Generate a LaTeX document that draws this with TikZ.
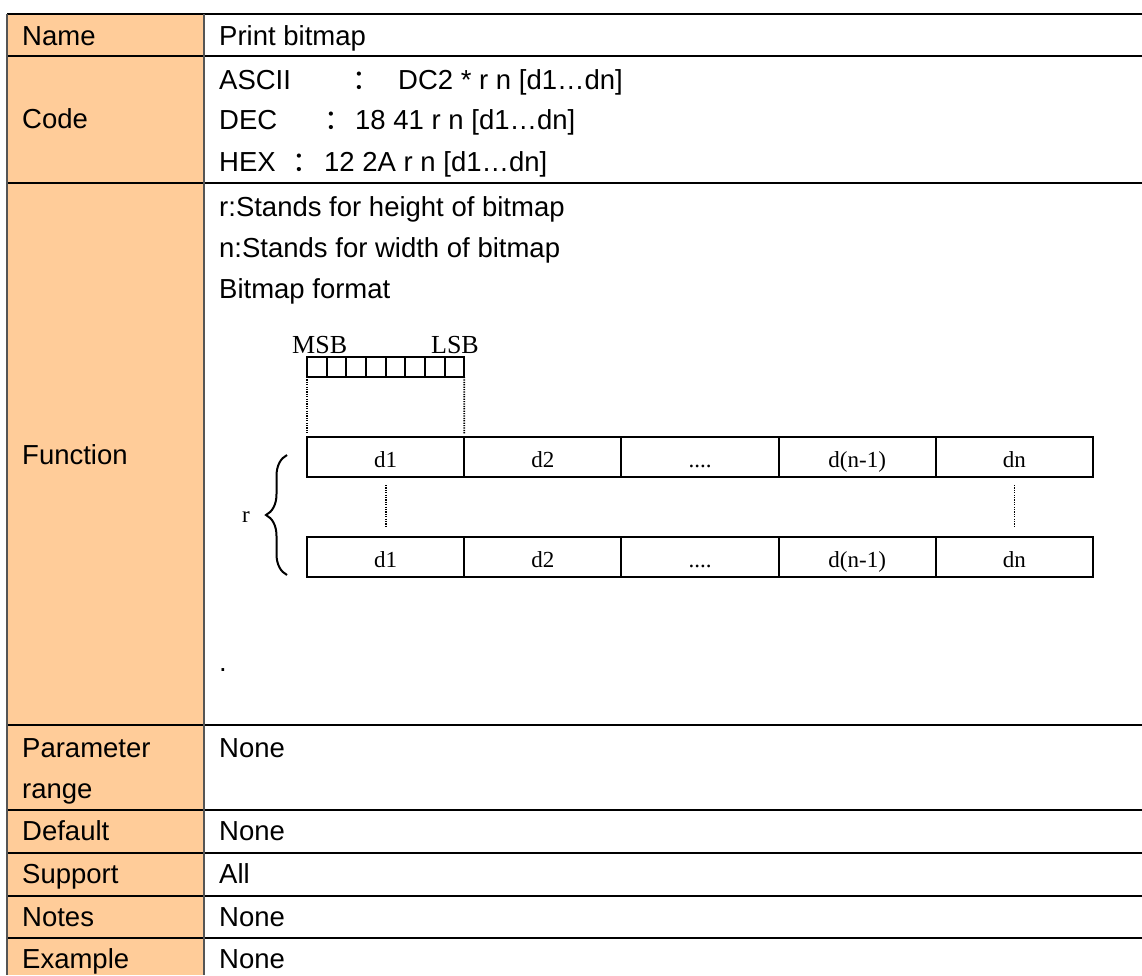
\documentclass[tikz,border=0pt]{standalone}
\usepackage{fontspec}
\setmainfont{Liberation Sans}
\newfontfamily\diagserif{Liberation Serif}
\newfontfamily\cjkfont{Noto Sans CJK SC}
\usetikzlibrary{positioning,decorations.pathreplacing}
\definecolor{headfill}{RGB}{255,204,153}
\definecolor{gridgray}{RGB}{85,85,85}
\tikzset{
    txt/.style={
           anchor=base west,
           inner sep=0pt,
           font=\fontsize{27.5}{33}\selectfont},
    colon/.style={
           anchor=base,
           inner sep=0pt,
           font=\cjkfont\fontsize{27.5}{33}\selectfont},
    rule/.style={
           draw=black,
           line width=1.3pt},
    sep/.style={
           draw=gridgray,
           line width=1.5pt},
    serif/.style={
           inner sep=0pt,
           font=\diagserif\fontsize{23}{27}\selectfont},
    bitbox/.style={
           draw, line width=2pt,
           minimum width=19.65pt,
           minimum height=20pt,
           inner sep=0pt, outer sep=0pt},
    cell/.style={
           draw, line width=2pt,
           minimum width=157.2pt,
           minimum height=40pt,
           text height=20pt, text depth=0pt,
           inner sep=0pt, outer sep=0pt,
           font=\diagserif\fontsize{23}{27}\selectfont},
    guide/.style={
           dash pattern=on 1.2pt off 1.2pt,
           line width=1.8pt},
    curly/.style={
           decorate,
           decoration={brace, amplitude=21pt},
           line width=2pt}
}

\begin{document}
\begin{tikzpicture}[x=1pt, y=-1pt, node distance=0pt]
        \useasboundingbox (0,0) rectangle (1142,975);
        % table grid
        \fill[headfill] (7,14) rectangle (204,975);
        \foreach \y in {14,56,183,725,810,853,896,938}
            \draw[rule] (7,\y) -- (1142,\y);
        \draw[sep] (7,14) -- (7,975);
        \draw[sep] (204,14) -- (204,975);

        % left column
        \node[txt] (hname) at (22,45) {Name};
        \node[txt] (hcode) at (22,128) {Code};
        \node[txt] (hfunc) at (22,464) {Function};
        \node[txt] (hparam) at (22,757) {Parameter};
        \node[txt] (hrange) at (22,798) {range};
        \node[txt] (hdefault) at (22,840) {Default};
        \node[txt] (hsupport) at (22,883) {Support};
        \node[txt] (hnotes) at (22,926) {Notes};
        \node[txt] (hexample) at (22,968) {Example};

        % right column
        \node[txt] (vname) at (219,45) {Print bitmap};
        \node[txt] (ascii) at (219,89) {ASCII};
        \node[colon] (asciicol) at (366,89) {：};
        \node[txt] (asciival) at (398,89) {DC2 * r n [d1…dn]};
        \node[txt] (dec) at (219,129) {DEC};
        \node[colon] (deccol) at (338,129) {：};
        \node[txt] (decval) at (355,129) {18 41 r n [d1…dn]};
        \node[txt] (hex) at (219,171) {HEX};
        \node[colon] (hexcol) at (306,171) {：};
        \node[txt] (hexval) at (324,171) {12 2A r n [d1…dn]};
        \node[txt] (fline1) at (219,216) {r:Stands for height of bitmap};
        \node[txt] (fline2) at (219,257) {n:Stands for width of bitmap};
        \node[txt] (fline3) at (219,298) {Bitmap format};
        \node[txt] (fdot) at (219,671) {.};
        \node[txt] (vparam) at (219,757) {None};
        \node[txt] (vdefault) at (219,840) {None};
        \node[txt] (vsupport) at (219,883) {All};
        \node[txt] (vnotes) at (219,926) {None};
        \node[txt] (vexample) at (219,968) {None};

        % bitmap format
        \foreach \i in {1,...,8}
            \node[bitbox] (bit\i) at ({307+19.65*(\i-0.5)},367) {};
        \node[serif, anchor=base west, font=\diagserif\fontsize{26}{30}\selectfont] (msb) at (292,353) {MSB};
        \node[serif, anchor=base east, font=\diagserif\fontsize{26}{30}\selectfont] (lsb) at (479,353) {LSB};

        \node[cell] (a1) at (385.6,457) {d1};
        \node[cell, right=of a1] (a2) {d2};
        \node[cell, right=of a2] (a3) {....};
        \node[cell, right=of a3] (a4) {d(n-1)};
        \node[cell, right=of a4] (a5) {dn};
        \node[cell] (b1) at (385.6,557) {d1};
        \node[cell, right=of b1] (b2) {d2};
        \node[cell, right=of b2] (b3) {....};
        \node[cell, right=of b3] (b4) {d(n-1)};
        \node[cell, right=of b4] (b5) {dn};

        \draw[guide, shorten >=3pt] (bit1.south west) -- (a1.north west);
        \draw[guide, shorten >=3pt] (bit8.south east) -- (a1.north east);
        \draw[guide, shorten <=8pt, shorten >=11pt] (a1.south) -- (b1.north);
        \draw[guide, shorten <=8pt, shorten >=11pt] (a5.south) -- (b5.north);

        \coordinate (brlow) at (287,575);
        \coordinate (brtop) at (287,455);
        \draw[curly] (brlow) -- (brtop);
        \node[serif, anchor=base] (rlab) at (246,522) {r};
\end{tikzpicture}
\end{document}
